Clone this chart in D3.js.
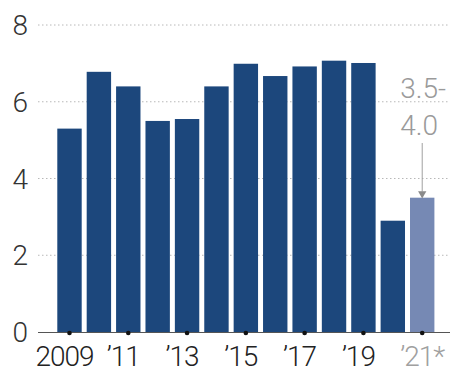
<!DOCTYPE html>
<html>
<head>
<meta charset="utf-8">
<script src="https://cdn.jsdelivr.net/npm/d3@7"></script>
<style>
  body { margin: 0; background: #fff; }
  svg { display: block; font-family: Roboto, "Noto Sans", sans-serif; font-weight: 300; }
</style>
</head>
<body>
<svg></svg>
<script>
const width = 450;
const height = 373;

// data (2021 is an estimate, shown lighter)
const years = [2009, 2010, 2011, 2012, 2013, 2014, 2015, 2016, 2017, 2018, 2019, 2020, 2021];
const values = [5.3, 6.78, 6.4, 5.5, 5.55, 6.4, 6.99, 6.67, 6.92, 7.07, 7.01, 2.9, 3.5];
const yTicks = [0, 2, 4, 6, 8];
const xTickYears = [2009, 2011, 2013, 2015, 2017, 2019, 2021];
const xTickLabels = ["2009", "\u201911", "\u201913", "\u201915", "\u201917", "\u201919", "\u201921*"];
const estimateLabel = ["3.5-", "4.0"];

const svg = d3.select("svg")
    .attr("width", width)
    .attr("height", height);

const x = d3.scaleBand()
    .domain(years)
    .range([54.8, 436.9])
    .paddingInner(0.17)
    .paddingOuter(0.085);

const y = d3.scaleLinear()
    .domain([0, 8])
    .range([332, 25]);

// ---------- gridlines ----------
svg.append("g")
    .selectAll("line")
    .data(yTicks.filter(d => d > 0))
    .enter().append("line")
    .attr("x1", 38)
    .attr("x2", width)
    .attr("y1", d => y(d))
    .attr("y2", d => y(d))
    .attr("stroke", "#b8b8b8")
    .attr("stroke-width", 1)
    .attr("stroke-dasharray", "1.5,2.5");

// y labels
svg.append("g")
    .selectAll("text")
    .data(yTicks)
    .enter().append("text")
    .attr("x", 28)
    .attr("y", d => y(d) + 10)
    .attr("text-anchor", "end")
    .attr("font-size", 28)
    .attr("fill", "#333")
    .text(d => d);

// ---------- bars ----------
svg.append("g")
    .selectAll("rect")
    .data(years)
    .enter().append("rect")
    .attr("x", d => x(d))
    .attr("width", x.bandwidth())
    .attr("y", (d, i) => y(values[i]))
    .attr("height", (d, i) => y(0) - y(values[i]))
    .attr("fill", d => d === 2021 ? "#7689b4" : "#1c477c");

// baseline
svg.append("line")
    .attr("x1", 38)
    .attr("x2", width)
    .attr("y1", y(0) + 0.5)
    .attr("y2", y(0) + 0.5)
    .attr("stroke", "#555")
    .attr("stroke-width", 1.2);

// tick dots
svg.append("g")
    .selectAll("circle")
    .data(xTickYears)
    .enter().append("circle")
    .attr("cx", d => x(d) + x.bandwidth() / 2)
    .attr("cy", y(0) + 1)
    .attr("r", 2.3)
    .attr("fill", "#111");

// x labels
svg.append("g")
    .selectAll("text")
    .data(xTickYears)
    .enter().append("text")
    .attr("x", d => x(d) + x.bandwidth() / 2 - (d === 2021 ? 0 : 5))
    .attr("y", 366)
    .attr("text-anchor", "middle")
    .attr("font-size", 28)
    .attr("letter-spacing", -1)
    .attr("fill", d => d === 2021 ? "#a0a0a0" : "#222")
    .text((d, i) => xTickLabels[i]);

// ---------- annotation ----------
const lastX = x(2021) + x.bandwidth() / 2;
const ann = svg.append("text")
    .attr("x", lastX - 22)
    .attr("font-size", 28)
    .attr("fill", "#9a9a9a");
ann.selectAll("tspan")
    .data(estimateLabel)
    .enter().append("tspan")
    .attr("x", lastX - 22)
    .attr("y", (d, i) => 98 + i * 37)
    .text(d => d);

svg.append("line")
    .attr("x1", lastX)
    .attr("x2", lastX)
    .attr("y1", 143)
    .attr("y2", y(values[12]) - 6)
    .attr("stroke", "#a0a0a0")
    .attr("stroke-width", 1);

svg.append("path")
    .attr("d", d3.symbol().type(d3.symbolTriangle).size(30)())
    .attr("transform", `translate(${lastX},${y(values[12]) - 4}) rotate(180)`)
    .attr("fill", "#8a8a8a");
</script>
</body>
</html>
